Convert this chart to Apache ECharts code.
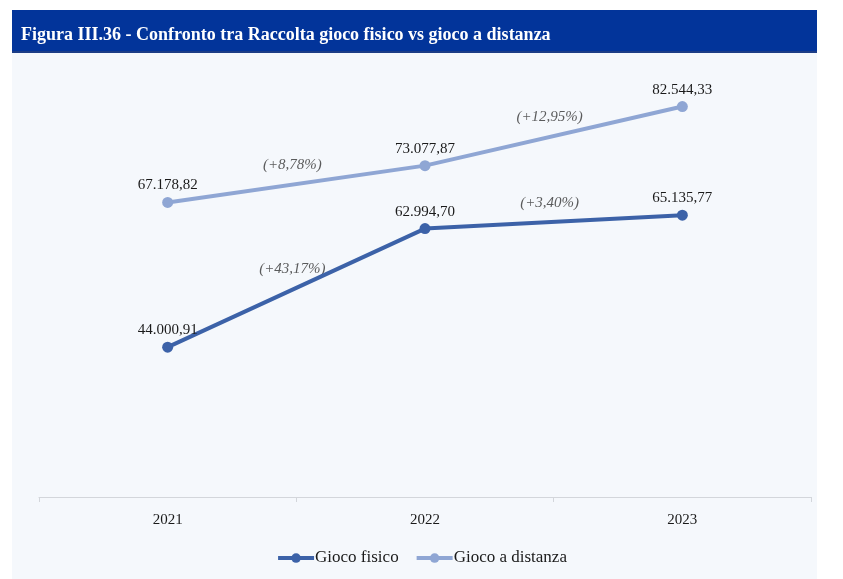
<!DOCTYPE html>
<html>
<head>
    <title>Figura III.36</title>
    <script src="https://cdn.jsdelivr.net/npm/echarts@6.0.0/dist/echarts.min.js"></script>
    <style>
        html, body { margin: 0; padding: 0; background: #ffffff; }
    </style>
</head>
<body>
    <div id="chart" style="width: 843px; height: 579px;"></div>
    <script>
        // values (milioni di euro)
        var years = ['2021', '2022', '2023'];
        var giocoFisico = [44000.91, 62994.70, 65135.77];
        var giocoDistanza = [67178.82, 73077.87, 82544.33];
        // year-on-year changes written between the points
        var varFisico = ['(+43,17%)', '(+3,40%)'];
        var varDistanza = ['(+8,78%)', '(+12,95%)'];

        var titleText = 'Figura III.36 - Confronto tra Raccolta gioco fisico vs gioco a distanza';
        var serif = '"Liberation Serif", "DejaVu Serif", serif';
        var darkBlue = '#3c62a8';
        var lightBlue = '#8fa6d4';

        // 44000.91 -> "44.000,91"
        function itNumber(v) {
            var parts = v.toFixed(2).split('.');
            var intPart = parts[0].replace(/\B(?=(\d{3})+(?!\d))/g, '.');
            return intPart + ',' + parts[1];
        }

        // change labels sit at the middle of each segment
        function midPoints(values, labels) {
            var out = [];
            for (var i = 0; i < labels.length; i++) {
                out.push({ value: [i + 0.5, (values[i] + values[i + 1]) / 2], name: labels[i] });
            }
            return out;
        }

        var chart = echarts.init(document.querySelector('#chart'));

        var lineLabel = {
            show: true,
            position: 'top',
            distance: 0,
            color: '#1a1a1a',
            fontFamily: serif,
            fontSize: 15,
            formatter: function (p) { return itNumber(p.value); }
        };

        var changeLabel = {
            show: true,
            position: 'inside',
            offset: [-4, -19],
            color: '#333333',
            fontFamily: serif,
            fontStyle: 'italic',
            fontSize: 15,
            formatter: function (p) { return p.name; }
        };

        var option = {
            animation: false,
            graphic: [
                {
                    type: 'rect', z: -10, silent: true,
                    shape: { x: 12, y: 53, width: 805, height: 526 },
                    style: { fill: '#f5f8fc' }
                },
                {
                    type: 'rect', z: -10, silent: true,
                    shape: { x: 12, y: 10, width: 805, height: 43 },
                    style: { fill: '#02349a' }
                },
                {
                    type: 'rect', z: -9, silent: true,
                    shape: { x: 12, y: 51, width: 805, height: 2 },
                    style: { fill: '#1c3d86' }
                },
                {
                    type: 'text', z: -8, silent: true,
                    left: 21, top: 21,
                    style: {
                        text: titleText,
                        fill: '#ffffff',
                        font: 'bold 18px ' + serif
                    }
                }
            ],
            grid: { left: 39, right: 32, top: 60, bottom: 82 },
            legend: {
                bottom: 3,
                left: 'center',
                itemWidth: 36,
                itemHeight: 12,
                itemGap: 16,
                lineStyle: { width: 4 },
                textStyle: { fontFamily: serif, fontSize: 17, color: '#1a1a1a', padding: [0, 0, 0, -4] },
                data: ['Gioco fisico', 'Gioco a distanza']
            },
            xAxis: [
                {
                    type: 'category',
                    data: years,
                    boundaryGap: true,
                    axisLine: { lineStyle: { color: '#d3d6db', width: 1 } },
                    axisTick: { show: true, length: 5, lineStyle: { color: '#d3d6db' } },
                    axisLabel: { color: '#1a1a1a', fontFamily: serif, fontSize: 15, margin: 12 }
                },
                {
                    type: 'value',
                    min: -0.5,
                    max: 2.5,
                    show: false
                }
            ],
            yAxis: {
                type: 'value',
                min: 20000,
                max: 90000,
                show: false,
                splitLine: { show: false }
            },
            series: [
                {
                    name: 'Gioco fisico',
                    type: 'line',
                    data: giocoFisico,
                    symbol: 'circle',
                    symbolSize: 11,
                    itemStyle: { color: darkBlue },
                    lineStyle: { color: darkBlue, width: 4 },
                    label: lineLabel
                },
                {
                    name: 'Gioco a distanza',
                    type: 'line',
                    data: giocoDistanza,
                    symbol: 'circle',
                    symbolSize: 11,
                    itemStyle: { color: lightBlue },
                    lineStyle: { color: lightBlue, width: 4 },
                    label: lineLabel
                },
                {
                    type: 'scatter',
                    xAxisIndex: 1,
                    data: midPoints(giocoFisico, varFisico).concat(midPoints(giocoDistanza, varDistanza)),
                    symbolSize: 0,
                    silent: true,
                    label: changeLabel
                }
            ]
        };
        chart.setOption(option);
    </script>
</body>
</html>
